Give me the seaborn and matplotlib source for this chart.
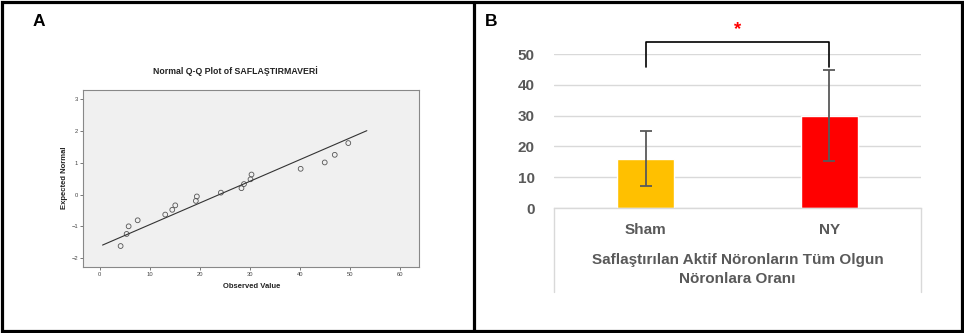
import numpy as np
import pandas as pd
import matplotlib
matplotlib.use("Agg")
import matplotlib.pyplot as plt
from matplotlib.lines import Line2D
from matplotlib.patches import Rectangle
import seaborn as sns

# ------------------------------
#   Data
# ------------------------------
# Panel A: Normal Q-Q plot
observed = [4.2, 5.4, 5.8, 7.6, 13.1, 14.5, 15.1, 19.2, 19.4, 24.2,
            28.3, 28.8, 30.1, 30.3, 40.1, 44.9, 46.9, 49.6]
expected = [-1.62, -1.24, -1.00, -0.81, -0.63, -0.48, -0.34, -0.20, -0.06, 0.06,
            0.20, 0.33, 0.48, 0.63, 0.81, 1.01, 1.25, 1.62]
line_x = [0.6, 53.3]
line_y = [-1.59, 2.01]
qq_xticks = [0, 10, 20, 30, 40, 50, 60]
qq_yticks = [-2, -1, 0, 1, 2, 3]

# Panel B: bar chart with error bars
groups = ["Sham", "NY"]
means = [16, 30]
errors = [8.9, 14.7]
bar_colors = ["#FFC000", "#FF0000"]
bar_yticks = [0, 10, 20, 30, 40, 50]
bracket_low = 45.9
bracket_high = 53.8

sns.set_style("white")
plt.rcParams["font.family"] = ["Liberation Sans", "DejaVu Sans"]

W, H = 964, 333
fig = plt.figure(figsize=(W / 100, H / 100), dpi=100)


def fx(px):
    return px / W


def fy(py):
    return 1 - py / H


# ------------------------------
#   Panel A
# ------------------------------
axA = fig.add_axes([fx(83), fy(267), fx(419 - 83), (267 - 90) / H])
axA.set_facecolor("#f0f0f0")
sns.lineplot(x=line_x, y=line_y, ax=axA, color="#333333", linewidth=0.8)
sns.scatterplot(x=observed, y=expected, ax=axA, marker="o", s=12,
                facecolor="none", edgecolor="#555555", linewidth=0.6)
axA.set_xlim(-3.3, 63.7)
axA.set_ylim(-2.28, 3.29)
axA.set_xticks(qq_xticks)
axA.set_yticks(qq_yticks)
axA.tick_params(labelsize=4.2, length=2, width=0.5, colors="#444444",
                pad=1.5, bottom=True, left=True)
for s in axA.spines.values():
    s.set_color("#888888")
    s.set_linewidth(0.8)
fig.text(fx(235), fy(71), "Normal Q-Q Plot of SAFLAŞTIRMAVERİ",
         ha="center", va="center", fontsize=6.3, fontweight="bold", color="#222222")
fig.text(fx(252), fy(287), "Observed Value", ha="center", va="center",
         fontsize=5.5, fontweight="bold", color="#222222")
fig.text(fx(65), fy(178), "Expected Normal", ha="center", va="center",
         rotation=90, fontsize=5.5, fontweight="bold", color="#222222")

# ------------------------------
#   Panel B
# ------------------------------
axB = fig.add_axes([fx(554), fy(208), fx(921 - 554), (208 - 54) / H])
df = pd.DataFrame({"group": groups, "mean": means})
sns.barplot(data=df, x="group", y="mean", hue="group", palette=bar_colors,
            width=0.31, ax=axB, legend=False, saturation=1)
axB.errorbar(range(len(groups)), means, yerr=errors, fmt="none",
             ecolor="#595959", elinewidth=1.3, capsize=4.5, capthick=1.3)
axB.set_xlim(-0.5, 1.5)
axB.set_ylim(0, 50)
axB.set_yticks(bar_yticks)
axB.yaxis.grid(True, color="#d9d9d9", linewidth=1)
axB.set_axisbelow(True)
for s in ["top", "right", "left"]:
    axB.spines[s].set_visible(False)
axB.spines["bottom"].set_color("#d9d9d9")
axB.spines["bottom"].set_linewidth(1)
axB.tick_params(axis="y", length=0, labelsize=11, labelcolor="#595959", pad=14)
axB.tick_params(axis="x", length=0, labelsize=11, labelcolor="#595959", pad=11)
for lab in axB.get_yticklabels() + axB.get_xticklabels():
    lab.set_fontweight("bold")
axB.set_xlabel("Saflaştırılan Aktif Nöronların Tüm Olgun\nNöronlara Oranı",
               fontsize=11, fontweight="bold", color="#595959", labelpad=11,
               linespacing=1.5)
axB.set_ylabel("")

# category box lines below the axis
for x in [554, 921]:
    fig.add_artist(Line2D([fx(x), fx(x)], [fy(208), fy(292)],
                          color="#d9d9d9", linewidth=1))

# significance bracket
axB.plot([0, 0, 1, 1], [bracket_low, bracket_high, bracket_high, bracket_low],
         color="black", linewidth=1.2, clip_on=False, solid_joinstyle="round")
axB.text(0.5, 57.8, "*", ha="center", va="center", fontsize=13.5,
         fontweight="bold", color="#ff0000", clip_on=False)

# ------------------------------
#   Panel labels and frame
# ------------------------------
fig.text(fx(39), fy(21), "A", ha="center", va="center", fontsize=12.5,
         fontweight="bold", color="black")
fig.text(fx(491), fy(21), "B", ha="center", va="center", fontsize=12.5,
         fontweight="bold", color="black")
fig.add_artist(Rectangle((fx(2), fy(331)), fx(960), (331 - 2) / H,
                         fill=False, edgecolor="black", linewidth=2.3))
fig.add_artist(Line2D([fx(474), fx(474)], [fy(2), fy(331)],
                      color="black", linewidth=2.3))

fig.savefig("out.png", dpi=100)
